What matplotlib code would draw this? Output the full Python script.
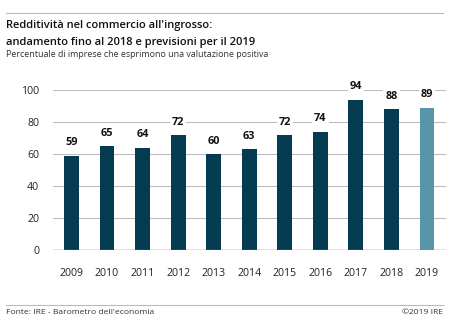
import matplotlib.pyplot as plt
import numpy as np

plt.rcParams['font.family'] = ['Open Sans', 'DejaVu Sans']

anni = ['2009', '2010', '2011', '2012', '2013', '2014', '2015', '2016', '2017', '2018', '2019']
valori = [59, 65, 64, 72, 60, 63, 72, 74, 94, 88, 89]

scuro = '#053b50'
chiaro = '#5896ac'
colori = [scuro] * 10 + [chiaro]

fig = plt.figure(figsize=(4.49, 3.26), dpi=100)
ax = fig.add_axes([0.118, 0.233, 0.875, 0.491])

x = np.arange(len(anni))
ax.bar(x, valori, width=0.42, color=colori, zorder=2)

for xi, v in zip(x, valori):
    ax.text(xi, v + 4.5, str(v), ha='center', va='bottom', fontsize=7.8,
            fontweight='bold', color='#111111', zorder=4, clip_on=False,
            bbox=dict(facecolor='white', edgecolor='none', pad=1.5))

ax.set_xlim(-0.52, 10.53)
ax.set_ylim(0, 100)
ax.set_yticks([0, 20, 40, 60, 80, 100])
ax.set_xticks(x)
ax.set_xticklabels(anni)
ax.grid(axis='y', color='#bdbdbd', linewidth=0.8, zorder=0)
ax.axhline(0, color='#7a7a7a', linewidth=1, zorder=3)
for s in ax.spines.values():
    s.set_visible(False)
ax.tick_params(length=0, labelsize=7.6, colors='#222222')
ax.tick_params(axis='x', pad=13)
ax.tick_params(axis='y', pad=10)

# intestazione
fig.add_artist(plt.Line2D([0.013, 0.987], [0.96, 0.96], color='#bbbbbb', linewidth=0.8))
fig.text(0.013, 0.923, "Redditività nel commercio all'ingrosso:", fontsize=8.0,
         fontweight='semibold', va='center', color='#111111')
fig.text(0.013, 0.871, "andamento fino al 2018 e previsioni per il 2019", fontsize=8.0,
         fontweight='semibold', va='center', color='#111111')
fig.text(0.013, 0.833, "Percentuale di imprese che esprimono una valutazione positiva",
         fontsize=6.4, va='center', color='#333333')

# piede
fig.add_artist(plt.Line2D([0.013, 0.987], [0.064, 0.064], color='#bbbbbb', linewidth=0.8))
fig.text(0.013, 0.04, "Fonte: IRE - Barometro dell'economia", fontsize=6.1, va='center', color='#333333')
fig.text(0.987, 0.04, "©2019 IRE", fontsize=6.1, va='center', ha='right', color='#333333')

fig.savefig('out.png', dpi=100)
